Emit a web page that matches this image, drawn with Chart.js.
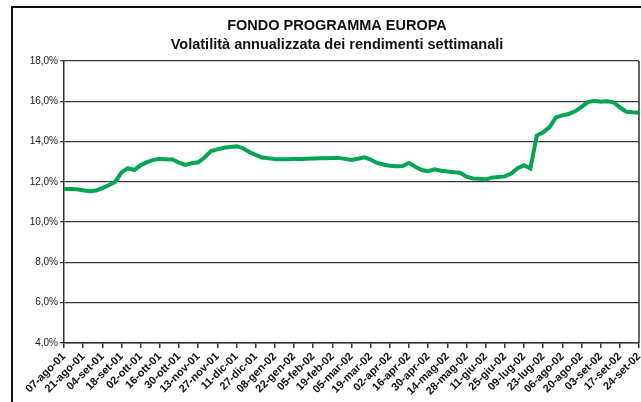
<!DOCTYPE html>
<html>
<head>
<meta charset="utf-8">
<script src="https://cdn.jsdelivr.net/npm/chart.js@4.4.1/dist/chart.umd.min.js"></script>
<style>
  html, body { margin: 0; padding: 0; background: #fff; overflow: hidden; width: 641px; height: 402px; }
  #frame { position: absolute; left: 11px; top: 6px; width: 700px; height: 430px; border: 2px solid #111; }
  #chart { position: absolute; left: 0; top: 0; }
</style>
</head>
<body>
<div id="frame"></div>
<canvas id="chart" width="676" height="402"></canvas>
<script>
// tick labels shown every 3rd observation
var tickLabels = ['07-ago-01', '21-ago-01', '04-set-01', '18-set-01', '02-ott-01', '16-ott-01', '30-ott-01',
  '13-nov-01', '27-nov-01', '11-dic-01', '27-dic-01', '08-gen-02', '22-gen-02', '05-feb-02', '19-feb-02',
  '05-mar-02', '19-mar-02', '02-apr-02', '16-apr-02', '30-apr-02', '14-mag-02', '28-mag-02', '11-giu-02',
  '25-giu-02', '09-lug-02', '23-lug-02', '06-ago-02', '20-ago-02', '03-set-02', '17-set-02', '24-set-02'];

// volatilita' annualizzata (%), one value per observation
var volatility = [
  11.64, 11.64, 11.63, 11.58, 11.53, 11.57, 11.69, 11.83, 12.00, 12.47,
  12.68, 12.59, 12.82, 12.98, 13.09, 13.14, 13.12, 13.11, 12.95, 12.84,
  12.92, 12.97, 13.21, 13.53, 13.61, 13.69, 13.73, 13.77, 13.67, 13.48,
  13.34, 13.21, 13.17, 13.14, 13.12, 13.12, 13.13, 13.14, 13.15, 13.16,
  13.17, 13.17, 13.18, 13.19, 13.14, 13.09, 13.15, 13.22, 13.11, 12.94,
  12.86, 12.80, 12.78, 12.79, 12.94, 12.75, 12.59, 12.53, 12.62, 12.55,
  12.51, 12.48, 12.45, 12.26, 12.17, 12.15, 12.12, 12.21, 12.24, 12.27,
  12.41, 12.68, 12.82, 12.66, 14.30, 14.46, 14.72, 15.20, 15.30, 15.37,
  15.50, 15.72, 15.96, 16.03, 15.98, 16.00, 15.95, 15.70, 15.48, 15.45,
  15.43];

var points = volatility.map(function (v, i) { return { x: i, y: v }; });

// right edge of the plot area + centre the title on the outer frame
var plotBorder = {
  id: 'plotBorder',
  afterLayout: function (chart) {
    if (chart.titleBlock) chart.titleBlock.left += 21;
  },
  beforeDatasetsDraw: function (chart) {
    var a = chart.chartArea, c = chart.ctx;
    c.save();
    c.strokeStyle = '#333';
    c.lineWidth = 1.5;
    c.beginPath();
    c.moveTo(a.right, a.top);
    c.lineTo(a.right, a.bottom);
    c.stroke();
    c.restore();
  }
};

new Chart(document.getElementById('chart').getContext('2d'), {
  type: 'line',
  data: {
    datasets: [{
      data: points,
      borderColor: '#00a651',
      borderWidth: 4,
      pointRadius: 0,
      tension: 0,
      fill: false
    }]
  },
  options: {
    responsive: false,
    animation: false,
    layout: { padding: { left: 14, right: 37, top: 0, bottom: 0 } },
    plugins: {
      legend: { display: false },
      tooltip: { enabled: false },
      title: {
        display: true,
        text: ['FONDO PROGRAMMA EUROPA', 'Volatilità annualizzata dei rendimenti settimanali'],
        color: '#111',
        font: { family: 'Liberation Sans, Arial, sans-serif', size: 14.5, weight: 'bold', lineHeight: 1.31 },
        padding: { top: 17, bottom: 6 }
      }
    },
    scales: {
      x: {
        type: 'linear',
        min: 0,
        max: volatility.length - 1,
        afterFit: function (s) { s.height = 59; },
        border: { display: true, color: '#333', width: 1.5 },
        grid: { drawOnChartArea: false, drawTicks: true, tickLength: 5, color: '#333', lineWidth: 1.5 },
        ticks: {
          stepSize: 3,
          autoSkip: false,
          maxRotation: 45,
          minRotation: 45,
          padding: 2,
          color: '#111',
          font: { family: 'Liberation Sans, Arial, sans-serif', size: 11, weight: 'bold' },
          callback: function (v) { return v % 3 === 0 ? tickLabels[v / 3] : ''; }
        }
      },
      y: {
        min: 4,
        max: 18,
        afterFit: function (s) { s.width = 50; },
        border: { display: true, color: '#333', width: 1.5 },
        grid: { color: '#3a3a3a', lineWidth: 1.3, tickLength: 4 },
        ticks: {
          stepSize: 2,
          padding: 2,
          color: '#222',
          font: { family: 'Liberation Sans, Arial, sans-serif', size: 10 },
          callback: function (v) { return v.toFixed(1).replace('.', ',') + '%'; }
        }
      }
    }
  },
  plugins: [plotBorder]
});
</script>
</body>
</html>
